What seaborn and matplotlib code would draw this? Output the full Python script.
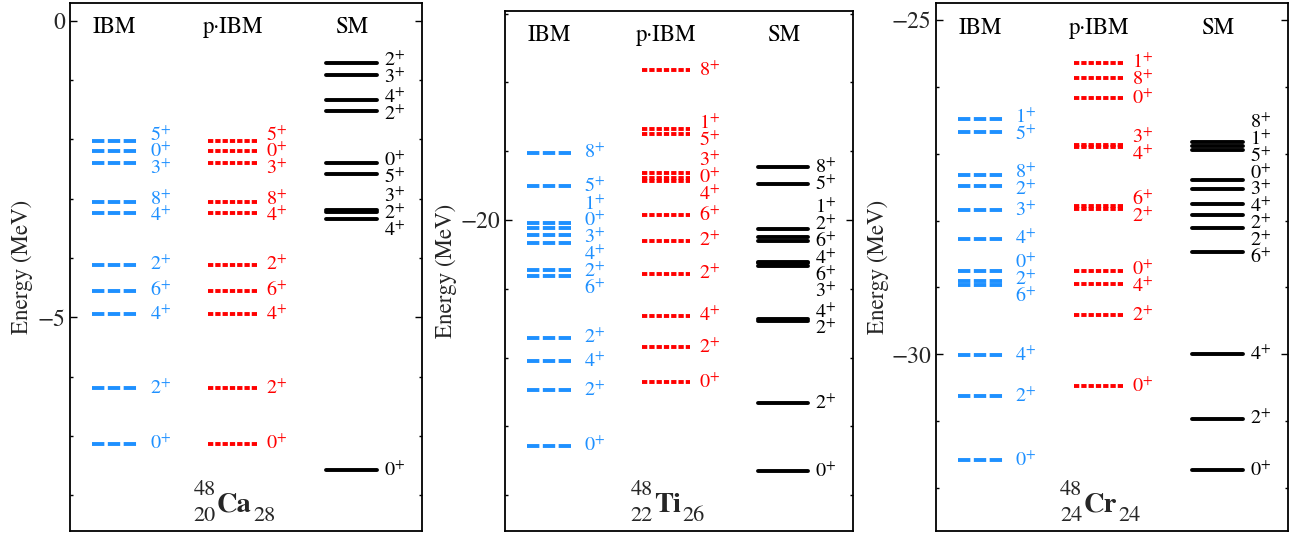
import numpy as np
import pandas as pd
import seaborn as sns
import matplotlib
matplotlib.use("Agg")
import matplotlib.pyplot as plt
import matplotlib.transforms as mtransforms
from matplotlib.ticker import MultipleLocator

# 48Ca levels (MeV)
ca_ibm_j = [5, 0, 3, 8, 4, 2, 6, 4, 2, 0]
ca_ibm_e = [-2.02, -2.20, -2.40, -3.05, -3.24, -4.11, -4.55, -4.94, -6.19, -7.13]
ca_pibm_j = [5, 0, 3, 8, 4, 2, 6, 4, 2, 0]
ca_pibm_e = [-2.02, -2.20, -2.40, -3.05, -3.24, -4.11, -4.55, -4.94, -6.19, -7.13]
ca_sm_j = [2, 3, 4, 2, 0, 5, 3, 2, 4, 0]
ca_sm_e = [-0.71, -0.91, -1.33, -1.53, -2.40, -2.58, -3.19, -3.22, -3.34, -7.57]

# 48Ti levels
ti_ibm_j = [8, 5, 1, 0, 3, 4, 2, 6, 2, 4, 2, 0]
ti_ibm_e = [-19.02, -19.51, -20.04, -20.12, -20.22, -20.33, -20.72, -20.82, -21.71, -22.05, -22.47, -23.28]
ti_pibm_j = [8, 1, 5, 3, 0, 4, 6, 2, 2, 4, 2, 0]
ti_pibm_e = [-17.82, -18.68, -18.75, -19.32, -19.385, -19.44, -19.93, -20.30, -20.78, -21.39, -21.85, -22.36]
ti_sm_j = [8, 5, 1, 2, 6, 4, 6, 3, 4, 2, 2, 0]
ti_sm_e = [-19.23, -19.48, -20.13, -20.24, -20.30, -20.61, -20.63, -20.67, -21.44, -21.47, -22.66, -23.65]

# 48Cr levels
cr_ibm_j = [1, 5, 8, 2, 3, 4, 0, 2, 6, 4, 2, 0]
cr_ibm_e = [-26.48, -26.67, -27.32, -27.48, -27.84, -28.27, -28.75, -28.91, -28.96, -30.01, -30.62, -31.58]
cr_pibm_j = [1, 8, 0, 3, 4, 6, 2, 0, 4, 2, 0]
cr_pibm_e = [-25.65, -25.87, -26.17, -26.87, -26.90, -27.78, -27.83, -28.75, -28.95, -29.41, -30.47]
cr_sm_j = [8, 1, 5, 0, 3, 4, 2, 2, 6, 4, 2, 0]
cr_sm_e = [-26.83, -26.89, -26.95, -27.40, -27.53, -27.75, -27.91, -28.11, -28.47, -30.00, -30.96, -31.73]

# nucleus labels: symbol, A, Z, N
symbols = ["Ca", "Ti", "Cr"]
mass_a = ["48", "48", "48"]
proton_z = ["20", "22", "24"]
neutron_n = ["28", "26", "24"]
models = ["IBM", "p·IBM", "SM"]

sns.set_theme(style="ticks")
plt.rcParams["font.family"] = ["STIXGeneral", "DejaVu Serif"]
plt.rcParams["mathtext.fontset"] = "stix"
plt.rcParams["lines.scale_dashes"] = False
plt.rcParams["axes.edgecolor"] = "black"

# column layout in axes fraction: line start, line end, label x
cols = {"IBM": (0.062, 0.190, 0.226), "p·IBM": (0.393, 0.532, 0.558), "SM": (0.728, 0.872, 0.893)}
colors = {"IBM": "#1e90ff", "p·IBM": "#ff0000", "SM": "black"}
dashes = {"IBM": (8.9, 2.5), "p·IBM": (3.8, 1.45), "SM": ""}

panels = [
    dict(ax=[0.05376, 0.0043, 0.27035, 0.99006], ylim=(-8.597, 0.298), lab=-0.106,
         data={"IBM": (ca_ibm_e, ca_ibm_j), "p·IBM": (ca_pibm_e, ca_pibm_j), "SM": (ca_sm_e, ca_sm_j)}),
    dict(ax=[0.38786, 0.0043, 0.26705, 0.97561], ylim=(-24.516, -16.958), lab=-0.139,
         data={"IBM": (ti_ibm_e, ti_ibm_j), "p·IBM": (ti_pibm_e, ti_pibm_j), "SM": (ti_sm_e, ti_sm_j)}),
    dict(ax=[0.71889, 0.0043, 0.27012, 0.98950], ylim=(-32.638, -24.75), lab=-0.133,
         data={"IBM": (cr_ibm_e, cr_ibm_j), "p·IBM": (cr_pibm_e, cr_pibm_j), "SM": (cr_sm_e, cr_sm_j)}),
]


def spread(energies, gap):
    # push labels apart so they don't overlap, keeping groups centred on their levels
    e = np.asarray(energies, dtype=float)
    order = np.argsort(e)[::-1]
    groups = [[e[i]] for i in order]
    merged = True
    while merged:
        merged = False
        for k in range(len(groups) - 1):
            a, b = groups[k], groups[k + 1]
            a_low = np.mean(a) - gap * (len(a) - 1) / 2
            b_top = np.mean(b) + gap * (len(b) - 1) / 2
            if a_low - b_top < gap - 1e-9:
                groups[k] = a + b
                del groups[k + 1]
                merged = True
                break
    pos = []
    for g in groups:
        m, n = np.mean(g), len(g)
        pos += [m + gap * ((n - 1) / 2 - k) for k in range(n)]
    out = np.empty(len(e))
    out[order] = pos
    return out


fig = plt.figure(figsize=(13.02, 5.33), dpi=100)
renderer = fig.canvas.get_renderer()
ident = mtransforms.IdentityTransform()
gap_px = 16.8

for k, p in enumerate(panels):
    ax = fig.add_axes(p["ax"])
    rows = []
    for m in models:
        e, j = p["data"][m]
        x0, x1, _ = cols[m]
        for i, en in enumerate(e):
            rows.append({"model": m, "lvl": f"{m}{i}", "x": x0, "E": en})
            rows.append({"model": m, "lvl": f"{m}{i}", "x": x1, "E": en})
    df = pd.DataFrame(rows)
    sns.lineplot(data=df, x="x", y="E", units="lvl", estimator=None, hue="model",
                 palette=colors, style="model", dashes=dashes, linewidth=2.8,
                 legend=False, ax=ax)

    ymin, ymax = p["ylim"]
    ax.set_xlim(0, 1)
    ax.set_ylim(ymin, ymax)
    px_per_mev = p["ax"][3] * 533 / (ymax - ymin)
    gap = gap_px / px_per_mev

    for m in models:
        e, j = p["data"][m]
        ly = spread(e, gap)
        for yy, jj in zip(ly, j):
            ax.text(cols[m][2], yy, rf"${jj}^{{+}}$", color=colors[m], fontsize=14.5,
                    ha="left", va="center")
        ax.text((cols[m][0] + cols[m][1]) / 2, 0.953, m, transform=ax.transAxes,
                fontsize=16.5, ha="center", va="center", color="black")

    # nucleus name with A, Z on the left and N on the right
    sym = ax.text(0.466, 0.036, symbols[k], transform=ax.transAxes, fontsize=20.5,
                  fontweight="bold", ha="center", va="baseline")
    bb = sym.get_window_extent(renderer)
    bx, by = ax.transAxes.transform((0.466, 0.036))
    fig.text(bb.x0 - 1, by + 17, mass_a[k], transform=ident, fontsize=16, ha="right", va="baseline")
    fig.text(bb.x0 - 1, by - 9, proton_z[k], transform=ident, fontsize=16, ha="right", va="baseline")
    fig.text(bb.x1 + 2, by - 9, neutron_n[k], transform=ident, fontsize=16, ha="left", va="baseline")

    ax.set_xlabel("")
    ax.set_xticks([])
    ax.set_ylabel("Energy (MeV)", fontsize=16.5)
    ax.yaxis.set_label_coords(p["lab"], 0.5)
    ax.yaxis.set_major_locator(MultipleLocator(5))
    ax.yaxis.set_minor_locator(MultipleLocator(1))
    ax.tick_params(axis="y", which="both", direction="in", left=True, right=True,
                   labelsize=17, pad=3.5, width=1.0, color="black")
    ax.tick_params(axis="y", which="major", length=5)
    ax.tick_params(axis="y", which="minor", length=2.5)
    for s in ax.spines.values():
        s.set_visible(True)
        s.set_linewidth(1.3)
        s.set_color("black")

fig.savefig("out.png", dpi=100)
